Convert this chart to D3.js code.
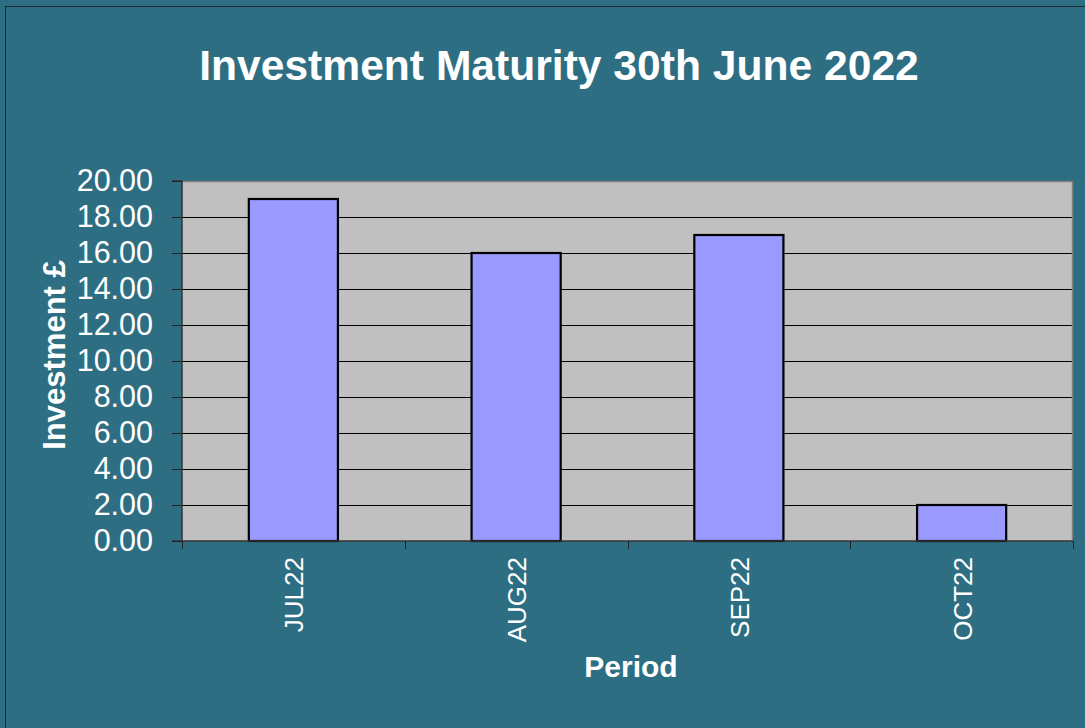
<!DOCTYPE html>
<html>
<head>
<meta charset="utf-8">
<script src="https://cdn.jsdelivr.net/npm/d3@7"></script>
<style>
  body { margin: 0; background: #2d6e83; }
  svg { display: block; font-family: Arial, "Liberation Sans", sans-serif; }
</style>
</head>
<body>
<div id="chart"></div>
<script>
const periods = ["JUL22", "AUG22", "SEP22", "OCT22"];
const investment = [19, 16, 17, 2];
const yTicks = [0, 2, 4, 6, 8, 10, 12, 14, 16, 18, 20];

const W = 1085, H = 728;
const margin = {top: 181, right: 12, bottom: 187, left: 182};
const width = W - margin.left - margin.right;
const height = H - margin.top - margin.bottom;

const data = periods.map((p, i) => ({period: p, value: investment[i]}));

const svg = d3.select("#chart")
  .append("svg")
  .attr("width", W)
  .attr("height", H);

svg.append("rect")
  .attr("width", W)
  .attr("height", H)
  .attr("fill", "#2d6e83");

// outer frame
svg.append("rect")
  .attr("x", 5.5)
  .attr("y", 6.5)
  .attr("width", W + 10)
  .attr("height", H + 10)
  .attr("fill", "none")
  .attr("stroke", "#1a2a33")
  .attr("stroke-width", 1);

svg.append("text")
  .attr("x", 559)
  .attr("y", 80)
  .attr("text-anchor", "middle")
  .style("fill", "white")
  .style("font-weight", "bold")
  .style("font-size", "42.6px")
  .text("Investment Maturity 30th June 2022");

const g = svg.append("g")
  .attr("transform", `translate(${margin.left},${margin.top})`);

const x = d3.scaleBand()
  .domain(periods)
  .range([0, width])
  .paddingInner(0.6)
  .paddingOuter(0.3);

const y = d3.scaleLinear()
  .domain([0, 20])
  .range([height, 0]);

// plot area
g.append("rect")
  .attr("width", width)
  .attr("height", height)
  .attr("fill", "#c0c0c0");

// gridlines
g.selectAll(".grid")
  .data(yTicks.filter(t => t > 0 && t < 20))
  .enter()
  .append("line")
  .attr("x1", 0)
  .attr("x2", width)
  .attr("y1", d => Math.round(y(d)) + 0.5)
  .attr("y2", d => Math.round(y(d)) + 0.5)
  .attr("stroke", "#000")
  .attr("stroke-width", 1);

// plot border top/right
g.append("path")
  .attr("d", `M0,0.5H${width - 0.5}V${height}`)
  .attr("fill", "none")
  .attr("stroke", "#808080")
  .attr("stroke-width", 1.5);

// bars
g.selectAll(".bar")
  .data(data)
  .enter()
  .append("rect")
  .attr("x", d => x(d.period))
  .attr("y", d => y(d.value))
  .attr("width", x.bandwidth())
  .attr("height", d => height - y(d.value))
  .attr("fill", "#9999ff")
  .attr("stroke", "#000")
  .attr("stroke-width", 2.2);

// y axis
const yAxis = g.append("g")
  .call(d3.axisLeft(y).tickValues(yTicks).tickFormat(d3.format(".2f")).tickSize(10).tickPadding(19));
yAxis.select(".domain").attr("stroke", "#333").attr("stroke-width", 1.5).attr("d", `M-10,${height}H0V0H-10`);
yAxis.selectAll(".tick line").attr("stroke", "#222");
yAxis.selectAll("text")
  .style("fill", "white")
  .style("font-size", "30.5px")
  .style("font-family", "Arial, 'Liberation Sans', sans-serif");

// x axis
const xEdges = d3.range(periods.length + 1).map(i => i * width / periods.length);
const xAxisG = g.append("g")
  .attr("transform", `translate(0,${height})`);
xAxisG.append("line")
  .attr("x1", 0).attr("x2", width)
  .attr("y1", 0).attr("y2", 0)
  .attr("stroke", "#333")
  .attr("stroke-width", 1.5);
xAxisG.selectAll(".xtick")
  .data(xEdges)
  .enter()
  .append("line")
  .attr("x1", d => Math.round(d) + 0.5)
  .attr("x2", d => Math.round(d) + 0.5)
  .attr("y1", 0)
  .attr("y2", 8)
  .attr("stroke", "#222");
xAxisG.selectAll(".xlabel")
  .data(periods)
  .enter()
  .append("text")
  .attr("transform", d => `translate(${x(d) + x.bandwidth() / 2 + 10},16) rotate(-90)`)
  .attr("text-anchor", "end")
  .style("fill", "white")
  .style("font-size", "26px")
  .text(d => d);

// axis titles
svg.append("text")
  .attr("x", 631)
  .attr("y", 677)
  .attr("text-anchor", "middle")
  .style("fill", "white")
  .style("font-weight", "bold")
  .style("font-size", "30px")
  .text("Period");

svg.append("text")
  .attr("transform", "translate(65,355) rotate(-90)")
  .attr("text-anchor", "middle")
  .style("fill", "white")
  .style("font-weight", "bold")
  .style("font-size", "31px")
  .text("Investment £");
</script>
</body>
</html>
